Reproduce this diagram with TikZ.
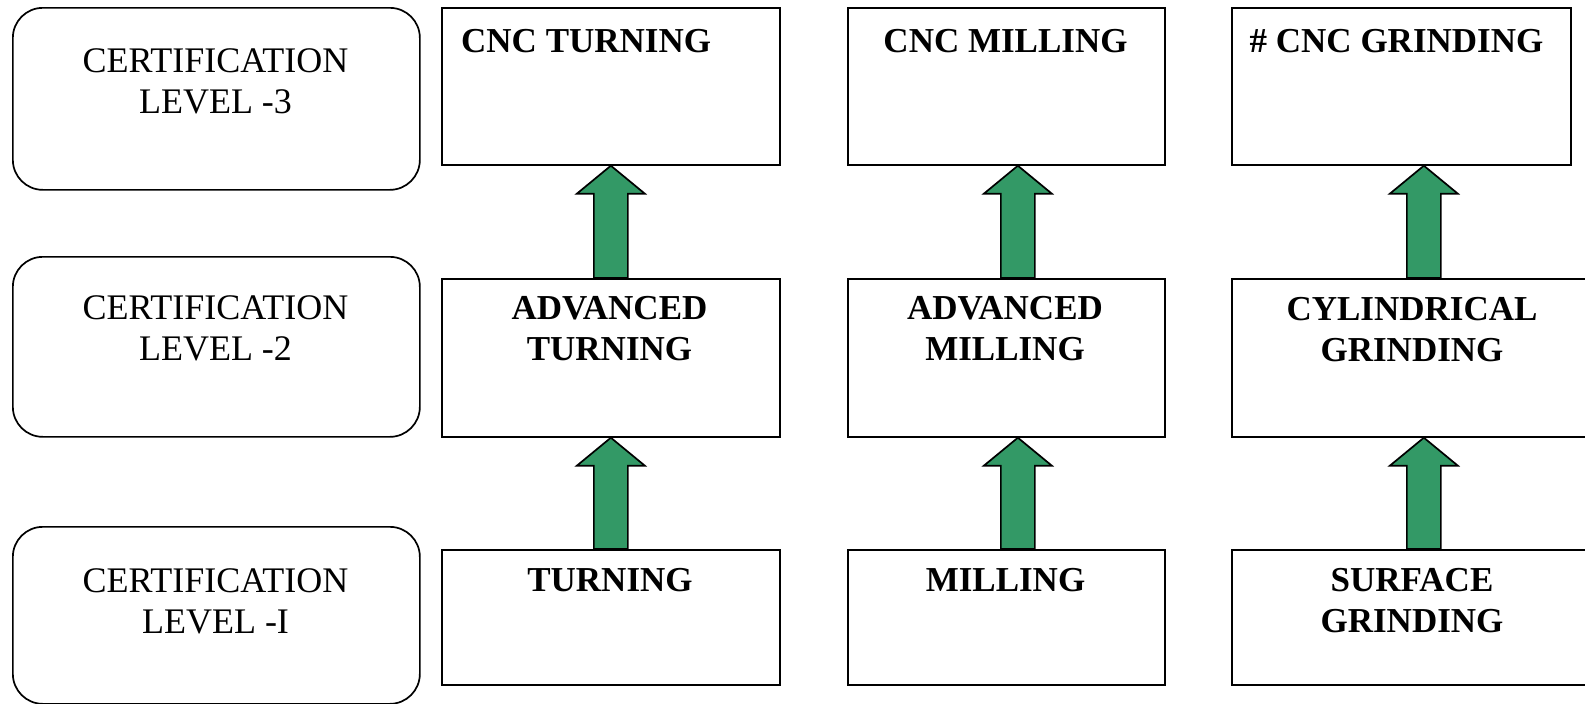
\documentclass[tikz,border=0pt]{standalone}
\usepackage{fontspec}
\setmainfont{Liberation Serif}
\usetikzlibrary{calc}
\definecolor{arrowgreen}{RGB}{51,153,102}
\newcommand\lvlfont{\fontsize{36}{41}\selectfont}
\newcommand\ttlfont{\fontsize{35}{41.5}\selectfont\bfseries}
\newcommand\twolines[2]{\begin{tabular}[t]{@{}c@{}}#1\\#2\end{tabular}}
\tikzset{
  lvlbox/.style={draw, line width=1.7pt, rounded corners=30pt, anchor=north west, inner sep=0pt, minimum width=407pt},
  skillbox/.style={draw, line width=1.7pt, anchor=north west, inner sep=0pt},
  lvltext/.style={font=\lvlfont, anchor=base, inner sep=0pt},
  ttltext/.style={font=\ttlfont, anchor=base, inner sep=0pt},
  blockarrow/.style={fill=arrowgreen, draw=black, line width=1.7pt, line join=miter},
}
% #1 lower node, #2 upper node, #3 x offset
\newcommand\levelarrow[3]{%
  \path[blockarrow] let \p1=($(#1.north)+(#3,0)$), \p2=(#2.south) in
    (\x1-17pt,\y1) -- (\x1-17pt,\y2-28pt) -- (\x1-34pt,\y2-28pt) -- (\x1,\y2)
    -- (\x1+34pt,\y2-28pt) -- (\x1+17pt,\y2-28pt) -- (\x1+17pt,\y1) -- cycle;}
\begin{document}
\begin{tikzpicture}[x=1pt,y=-1pt]
\useasboundingbox (0,0) rectangle (1585,704);
% level boxes
\node[lvlbox, minimum height=182pt] (l3) at (12,7) {};
\node[lvlbox, minimum height=180pt] (l2) at (12,256) {};
\node[lvlbox, minimum height=177pt] (l1) at (12,526) {};
\node[lvltext] (l3t) at (215.5,72) {\twolines{CERTIFICATION}{LEVEL -3}};
\node[lvltext] (l2t) at (215.5,319) {\twolines{CERTIFICATION}{LEVEL -2}};
\node[lvltext] (l1t) at (215.5,592) {\twolines{CERTIFICATION}{LEVEL -I}};
% column 1
\node[skillbox, minimum width=338pt, minimum height=157pt] (t3) at (441,7) {};
\node[skillbox, minimum width=338pt, minimum height=158pt] (t2) at (441,278) {};
\node[skillbox, minimum width=338pt, minimum height=135pt] (t1) at (441,549) {};
% column 2
\node[skillbox, minimum width=317pt, minimum height=157pt] (m3) at (847,7) {};
\node[skillbox, minimum width=317pt, minimum height=158pt] (m2) at (847,278) {};
\node[skillbox, minimum width=317pt, minimum height=135pt] (m1) at (847,549) {};
% column 3
\node[skillbox, minimum width=339pt, minimum height=157pt] (g3) at (1231,7) {};
\node[skillbox, minimum width=362pt, minimum height=158pt] (g2) at (1231,278) {};
\node[skillbox, minimum width=362pt, minimum height=135pt] (g1) at (1231,549) {};
% titles
\node[ttltext, anchor=base west] (t3t) at (461,52) {CNC TURNING};
\node[ttltext] (m3t) at (1005.5,52) {CNC MILLING};
\node[ttltext] (g3t) at (1396.5,52) {\# CNC GRINDING};
\node[ttltext] (t2t) at (609.5,319) {\twolines{ADVANCED}{TURNING}};
\node[ttltext] (m2t) at (1005,319) {\twolines{ADVANCED}{MILLING}};
\node[ttltext] (g2t) at (1412,320) {\twolines{CYLINDRICAL}{GRINDING}};
\node[ttltext] (t1t) at (610,591) {TURNING};
\node[ttltext] (m1t) at (1005.5,591) {MILLING};
\node[ttltext] (g1t) at (1412,591) {\twolines{SURFACE}{GRINDING}};
% arrows
\levelarrow{t2}{t3}{0pt}
\levelarrow{t1}{t2}{0pt}
\levelarrow{m2}{m3}{11.5pt}
\levelarrow{m1}{m2}{11.5pt}
\levelarrow{g2}{g3}{11pt}
\levelarrow{g1}{g2}{11pt}
\end{tikzpicture}
\end{document}
